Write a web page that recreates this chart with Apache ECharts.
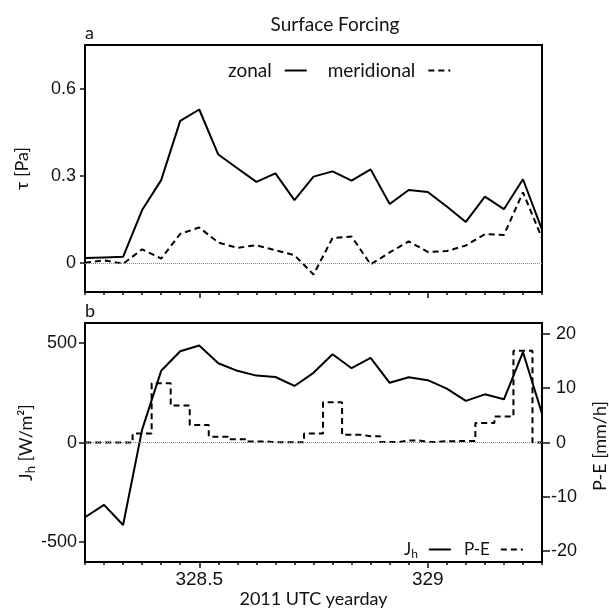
<!DOCTYPE html>
<html>
<head>
<meta charset="utf-8">
<title>Surface Forcing</title>
<script src="https://cdn.jsdelivr.net/npm/echarts@6/dist/echarts.min.js"></script>
<style>
  html, body { margin: 0; padding: 0; background: #fff; }
  #chart { width: 609px; height: 609px; }
</style>
</head>
<body>
<div id="chart"></div>
<script>
// Hourly samples, yearday 328.25 .. 329.25 (2011, UTC)
const dayStart = 328.25;
const hours = [0, 1, 2, 3, 4, 5, 6, 7, 8, 9, 10, 11, 12, 13, 14, 15, 16, 17, 18, 19, 20, 21, 22, 23, 24];
const yeardays = hours.map(h => dayStart + h / 24);

// Panel a: wind stress [Pa]
const zonal = [0.017, 0.019, 0.021, 0.182, 0.285, 0.489, 0.528, 0.373, 0.326, 0.279, 0.308, 0.216,
  0.297, 0.315, 0.283, 0.322, 0.203, 0.251, 0.244, 0.194, 0.141, 0.228, 0.185, 0.288, 0.115];
const meridional = [0.001, 0.009, -0.003, 0.047, 0.015, 0.100, 0.122, 0.070, 0.052, 0.061, 0.044, 0.027,
  -0.040, 0.086, 0.091, -0.005, 0.036, 0.074, 0.038, 0.041, 0.060, 0.099, 0.096, 0.243, 0.085];

// Panel b: surface heat flux [W/m2] and precipitation minus evaporation [mm/h]
const heatFlux = [-375, -313, -414, 65, 360, 458, 487, 398, 360, 336, 329, 284,
  350, 443, 373, 425, 300, 328, 313, 271, 209, 242, 217, 454, 146];
const precipMinusEvap = [0, 0, 0, 1.66, 10.9, 6.8, 3.25, 1.07, 0.6, 0.2, 0.05, 0.05,
  1.66, 7.4, 1.45, 1.15, 0.1, 0.4, 0.1, 0.25, 0.3, 3.6, 4.8, 16.9, 0];

// Tick positions / labels
const dayLabels = [328.5, 329];
const tauTicks = [0, 0.3, 0.6];
const fluxTicks = [-500, 0, 500];
const peTicks = [-20, -10, 0, 10, 20];

const pairs = vals => vals.map((v, i) => [yeardays[i], v]);

const INK = '#111';
const NUM_FONT = 'Liberation Sans';
const TXT_FONT = 'Lato';

const zeroLine = {
  silent: true,
  symbol: ['none', 'none'],
  label: { show: false },
  emphasis: { disabled: true },
  lineStyle: { type: 'dotted', color: '#888', width: 1 },
  data: [{ yAxis: 0 }]
};

function hourAxis(grid) {
  return {
    type: 'value', gridIndex: grid, position: 'bottom',
    min: 328.25, max: 329.25,
    axisLine: { show: false, onZero: false },
    axisTick: { show: true, customValues: yeardays, length: 3, lineStyle: { color: INK, width: 1.5 } },
    axisLabel: { show: false },
    splitLine: { show: false }
  };
}
function dayAxis(grid, labelled) {
  return {
    type: 'value', gridIndex: grid, position: 'bottom',
    min: 328.25, max: 329.25,
    axisLine: { show: false, onZero: false },
    axisTick: { show: true, customValues: dayLabels, length: 6, lineStyle: { color: INK, width: 1.5 } },
    axisLabel: {
      show: labelled, customValues: dayLabels, margin: 8,
      color: INK, fontFamily: NUM_FONT, fontSize: 19
    },
    splitLine: { show: false },
    name: labelled ? '2011 UTC yearday' : '',
    nameLocation: 'middle', nameGap: 22,
    nameTextStyle: { color: INK, fontFamily: TXT_FONT, fontSize: 18 }
  };
}

const legendCommon = {
  align: 'right', orient: 'horizontal',
  itemWidth: 22, itemHeight: 14,
  selectedMode: false,
  itemStyle: { opacity: 0 }
};

const option = {
  animation: false,
  backgroundColor: '#fff',
  title: {
    text: 'Surface Forcing',
    left: 330, top: 10, textAlign: 'center',
    textStyle: { color: INK, fontFamily: TXT_FONT, fontSize: 19, fontWeight: 'normal' }
  },
  graphic: [
    { type: 'text', left: 85, top: 24, style: { text: 'a', fill: INK, font: '18px ' + TXT_FONT } },
    { type: 'text', left: 85, top: 302, style: { text: 'b', fill: INK, font: '18px ' + TXT_FONT } },
    {
      type: 'text', x: 600, y: 446, rotation: Math.PI / 2,
      style: { text: 'P-E [mm/h]', fill: INK, font: '18px ' + TXT_FONT, align: 'center', verticalAlign: 'middle' }
    }
  ],
  legend: [
    Object.assign({}, legendCommon, {
      data: ['zonal', 'meridional'],
      left: 223, top: 56, itemGap: 20,
      textStyle: { color: INK, fontFamily: TXT_FONT, fontSize: 19, padding: [0, 8, 0, 0] }
    }),
    Object.assign({}, legendCommon, {
      data: ['Jh', 'P-E'],
      left: 399, top: 536, itemGap: 12,
      formatter: name => name === 'Jh' ? 'J{sub|h}' : name,
      textStyle: {
        color: INK, fontFamily: TXT_FONT, fontSize: 17, padding: [0, 6, 0, 0],
        rich: { sub: { fontSize: 12, fontFamily: TXT_FONT, color: INK, padding: [9, 0, 0, 0] } }
      }
    })
  ],
  grid: [
    { left: 85, right: 67, top: 45, height: 247, show: true, borderColor: '#000', borderWidth: 2, backgroundColor: 'transparent' },
    { left: 85, right: 67, top: 323, height: 246, show: true, borderColor: '#000', borderWidth: 2, backgroundColor: 'transparent' }
  ],
  xAxis: [hourAxis(0), dayAxis(0, false), hourAxis(1), dayAxis(1, true)],
  yAxis: [
    {
      type: 'value', gridIndex: 0, position: 'left', min: -0.1, max: 0.75,
      axisLine: { show: false },
      axisTick: { show: true, customValues: tauTicks, length: 5, lineStyle: { color: INK, width: 1.5 } },
      axisLabel: {
        customValues: tauTicks, margin: 9, color: INK, fontFamily: NUM_FONT, fontSize: 18,
        formatter: v => v === 0 ? '0' : v.toFixed(1)
      },
      splitLine: { show: false },
      name: 'τ [Pa]', nameLocation: 'middle', nameGap: 54, nameRotate: 90,
      nameTextStyle: { color: INK, fontFamily: TXT_FONT, fontSize: 18 }
    },
    {
      type: 'value', gridIndex: 1, position: 'left', min: -600, max: 600,
      axisLine: { show: false },
      axisTick: { show: true, customValues: fluxTicks, length: 6, lineStyle: { color: INK, width: 1.5 } },
      axisLabel: { customValues: fluxTicks, margin: 8, color: INK, fontFamily: NUM_FONT, fontSize: 18 },
      splitLine: { show: false },
      name: 'J{sub|h} [W/m²]', nameLocation: 'middle', nameGap: 48, nameRotate: 90,
      nameMoveOverlap: false,
      nameTextStyle: {
        color: INK, fontFamily: TXT_FONT, fontSize: 18,
        rich: { sub: { fontSize: 13, fontFamily: TXT_FONT, color: INK, padding: [9, 0, 0, 0] } }
      }
    },
    {
      type: 'value', gridIndex: 1, position: 'right', min: -22, max: 22,
      axisLine: { show: false },
      axisTick: { show: true, customValues: peTicks, length: 8, lineStyle: { color: INK, width: 1.5 } },
      axisLabel: {
        customValues: peTicks, margin: 9, color: INK, fontFamily: NUM_FONT, fontSize: 18,
        formatter: v => (v >= 0 ? ' ' : '') + v
      },
      splitLine: { show: false }
    }
  ],
  series: [
    {
      name: 'zonal', type: 'line', xAxisIndex: 0, yAxisIndex: 0,
      data: pairs(zonal), symbol: 'none', z: 3,
      lineStyle: { color: '#000', width: 2 }, itemStyle: { color: '#000' },
      markLine: zeroLine
    },
    {
      name: 'meridional', type: 'line', xAxisIndex: 0, yAxisIndex: 0,
      data: pairs(meridional), symbol: 'none', z: 3,
      lineStyle: { color: '#000', width: 2, type: [6, 4] }, itemStyle: { color: '#000' }
    },
    {
      name: 'Jh', type: 'line', xAxisIndex: 2, yAxisIndex: 1,
      data: pairs(heatFlux), symbol: 'none', z: 3,
      lineStyle: { color: '#000', width: 2 }, itemStyle: { color: '#000' },
      markLine: zeroLine
    },
    {
      name: 'P-E', type: 'line', xAxisIndex: 2, yAxisIndex: 2, step: 'middle',
      data: pairs(precipMinusEvap), symbol: 'none', z: 3,
      lineStyle: { color: '#000', width: 2, type: [6, 4] }, itemStyle: { color: '#000' }
    }
  ]
};

const chart = echarts.init(document.getElementById('chart'), null, { renderer: 'canvas' });
chart.setOption(option);
</script>
</body>
</html>
